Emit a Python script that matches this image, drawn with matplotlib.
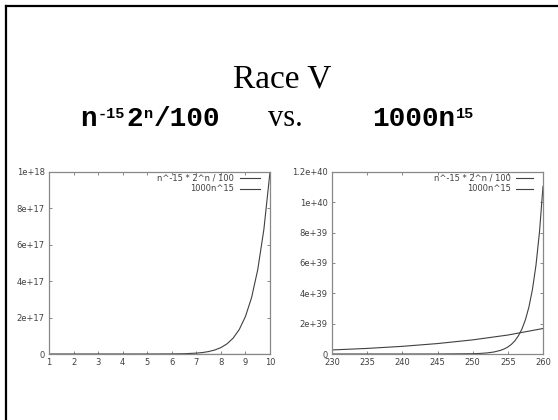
import matplotlib
matplotlib.use("Agg")
import matplotlib.pyplot as plt
from matplotlib.lines import Line2D

W, H = 558, 420

# ---------------- data ----------------
left_n = [1, 2, 3, 4, 5, 6, 6.5, 7, 7.25, 7.5, 7.75, 8, 8.25, 8.5, 8.75,
          9, 9.25, 9.5, 9.75, 10]
left_exp = [2e-2, 1.2e-6, 5.6e-9, 1.5e-10, 1.0e-11, 1.4e-12, 5e-13, 2.7e-13,
            2e-13, 1.5e-13, 1.1e-13, 7.3e-14, 5.5e-14, 4.2e-14, 3.2e-14,
            2.5e-14, 1.9e-14, 1.5e-14, 1.3e-14, 1.0e-14]
left_poly = [1e3, 3.28e7, 1.43e10, 1.07e12, 3.05e13, 4.70e14, 1.56e15, 4.75e15,
             8.04e15, 1.34e16, 2.19e16, 3.52e16, 5.58e16, 8.73e16, 1.35e17,
             2.06e17, 3.10e17, 4.63e17, 6.84e17, 1.0e18]

right_poly_n = [230, 235, 240, 245, 250, 255, 260]
right_poly = [2.67e38, 3.68e38, 5.05e38, 6.88e38, 9.31e38, 1.25e39, 1.68e39]

right_exp_n = [230, 240, 245, 250, 251, 252, 253, 254, 254.5, 255, 255.5, 256,
               256.5, 257, 257.5, 258, 258.5, 259, 259.5, 260]
right_exp = [6.5e31, 1e34, 5e35, 1.94e37, 3.66e37, 6.90e37, 1.30e38, 2.45e38,
             3.36e38, 4.62e38, 6.34e38, 8.71e38, 1.20e39, 1.64e39, 2.26e39,
             3.10e39, 4.26e39, 5.85e39, 8.04e39, 1.105e40]

left_xticks = [1, 2, 3, 4, 5, 6, 7, 8, 9, 10]
left_yticks = [0, 2e17, 4e17, 6e17, 8e17, 1e18]
left_ylabels = ["0", "2e+17", "4e+17", "6e+17", "8e+17", "1e+18"]
right_xticks = [230, 235, 240, 245, 250, 255, 260]
right_yticks = [0, 2e39, 4e39, 6e39, 8e39, 1e40, 1.2e40]
right_ylabels = ["0", "2e+39", "4e+39", "6e+39", "8e+39", "1e+40", "1.2e+40"]

series_labels = ["n^-15 * 2^n / 100", "1000n^15"]

# ---------------- figure ----------------
fig = plt.figure(figsize=(W / 100, H / 100), dpi=100)
fig.patch.set_facecolor("white")

# slide frame (top + left)
fig.add_artist(Line2D([5.6 / W, 1.0], [1 - 5.6 / H, 1 - 5.6 / H],
                      transform=fig.transFigure, color="black", lw=1.6))
fig.add_artist(Line2D([5.6 / W, 5.6 / W], [0, 1 - 5.6 / H],
                      transform=fig.transFigure, color="black", lw=1.6))

# title
fig.text(282 / W, 1 - 88 / H, "Race V", fontsize=24, family="Liberation Serif",
         ha="center", va="baseline")

renderer = fig.canvas.get_renderer()


def place(pieces, x0, ybase):
    x = x0
    for s, size, dy in pieces:
        t = fig.text(x / W, 1 - (ybase - dy) / H, s, fontsize=size,
                     family="Liberation Mono", weight="bold",
                     ha="left", va="baseline")
        bb = t.get_window_extent(renderer)
        x = bb.x1 + 1


place([("n", 20, 0), ("-15", 11, 8), ("2", 20, 0), ("n", 11, 8), ("/100", 20, 0)],
      80, 126)
place([("1000n", 20, 0), ("15", 11, 8)], 372, 126)
fig.text(285 / W, 1 - 126 / H, "vs.", fontsize=22, family="Liberation Serif",
         ha="center", va="baseline")

frame_col = "#888888"
line_col = "#404040"
tick_col = "#404040"


def style(ax):
    for sp in ax.spines.values():
        sp.set_color(frame_col)
        sp.set_linewidth(0.9)
    ax.tick_params(direction="in", length=2.5, width=0.7, color=frame_col,
                   top=True, right=True, labelsize=6, labelcolor=tick_col,
                   pad=3)
    for lab in ax.get_xticklabels() + ax.get_yticklabels():
        lab.set_family("DejaVu Sans")


# left axes
axL = fig.add_axes([49 / W, 1 - 354 / H, 221 / W, 182 / H])
axL.plot(left_n, left_exp, color=line_col, lw=0.8, label=series_labels[0])
axL.plot(left_n, left_poly, color=line_col, lw=0.8, label=series_labels[1])
axL.set_xlim(1, 10)
axL.set_ylim(0, 1e18)
axL.set_xticks(left_xticks)
axL.set_xticklabels([str(v) for v in left_xticks])
axL.set_yticks(left_yticks)
axL.set_yticklabels(left_ylabels)
style(axL)
axL.legend(loc="upper right", bbox_to_anchor=(0.955, 0.99), borderpad=0,
           borderaxespad=0, frameon=False, markerfirst=False, fontsize=6,
           handlelength=2.4, handletextpad=0.7, labelspacing=0.2,
           labelcolor=tick_col)

# right axes
axR = fig.add_axes([332 / W, 1 - 354 / H, 211 / W, 182 / H])
axR.plot(right_exp_n, right_exp, color=line_col, lw=0.8, label=series_labels[0])
axR.plot(right_poly_n, right_poly, color=line_col, lw=0.8, label=series_labels[1])
axR.set_xlim(230, 260)
axR.set_ylim(0, 1.2e40)
axR.set_xticks(right_xticks)
axR.set_xticklabels([str(v) for v in right_xticks])
axR.set_yticks(right_yticks)
axR.set_yticklabels(right_ylabels)
style(axR)
axR.legend(loc="upper right", bbox_to_anchor=(0.953, 0.99), borderpad=0,
           borderaxespad=0, frameon=False, markerfirst=False, fontsize=6,
           handlelength=2.0, handletextpad=0.7, labelspacing=0.2,
           labelcolor=tick_col)

fig.savefig("out.png", dpi=100, facecolor="white")
